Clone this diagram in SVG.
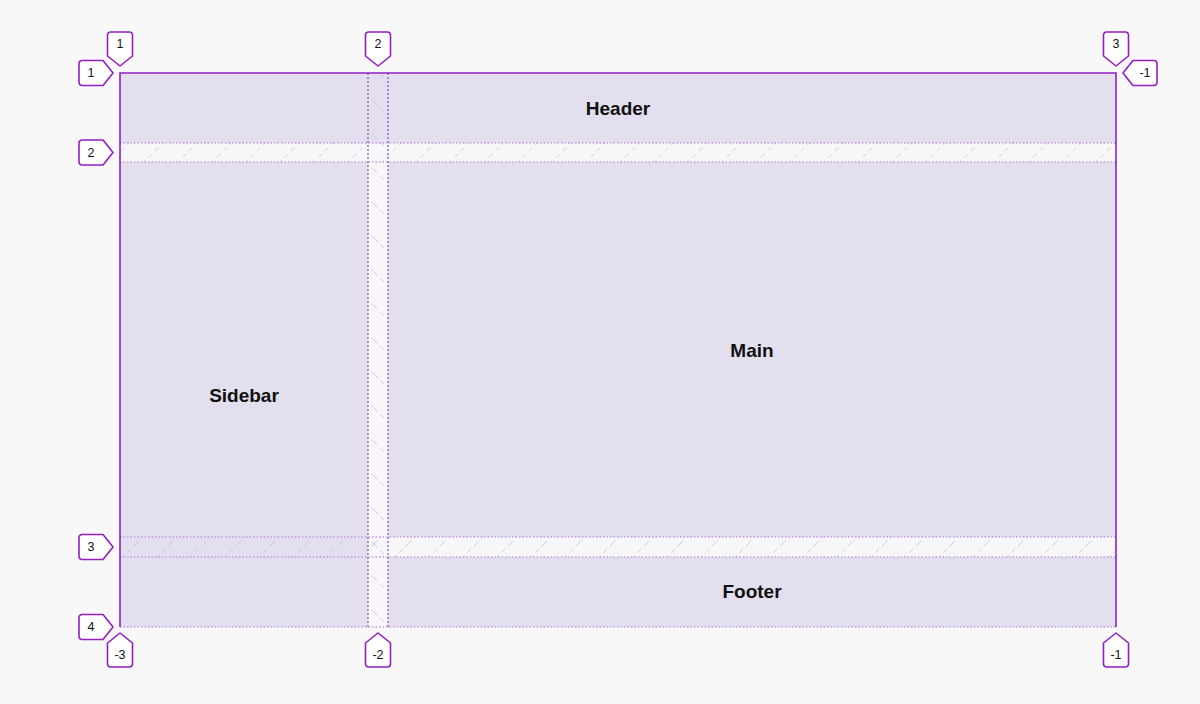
<svg xmlns="http://www.w3.org/2000/svg" width="1200" height="704" viewBox="0 0 1200 704">
  <defs>
    <style>
      .area{fill:#e3dfef}
      .gapbg{fill:#f7f6f9}
      .lbl{font-family:"Liberation Sans",Arial,sans-serif;font-size:19px;font-weight:bold;fill:#111;text-anchor:middle;dominant-baseline:central}
      .num{font-family:"Liberation Sans",Arial,sans-serif;font-size:12.5px;fill:#111;text-anchor:middle;dominant-baseline:central}
      .badge{fill:#fff;stroke:#931ec0;stroke-width:1.6;stroke-linejoin:round}
      .border{stroke:#931ec0;stroke-width:1.6;fill:none}
      .coldot{stroke:#a040cc;stroke-width:1.2;stroke-dasharray:2 2;fill:none}
      .rowdot{stroke:#b070d4;stroke-width:1;stroke-dasharray:1.5 2;fill:none}
    </style>
    <pattern id="hatchRow" patternUnits="userSpaceOnUse" width="34" height="34">
      <line x1="0" y1="34" x2="34" y2="0" stroke="#c6bfd4" stroke-width="0.8" stroke-dasharray="5 4"/>
    </pattern>
    <pattern id="hatchCol" patternUnits="userSpaceOnUse" width="34" height="34">
      <line x1="0" y1="0" x2="34" y2="34" stroke="#c6bfd4" stroke-width="0.8" stroke-dasharray="5 4"/>
    </pattern>
    <path id="bd" d="M -9.5,-34 H 9.5 A3,3 0 0 1 12.5,-31 V -10 L 0,0 L -12.5,-10 V -31 A3,3 0 0 1 -9.5,-34 Z"/>
  </defs>

  <rect width="1200" height="704" fill="#f8f8f8"/>

  <g id="grid">
    <rect class="gapbg" x="120" y="73" width="996" height="554"/>
  </g>

  <g id="header">
    <rect class="area" x="120" y="73" width="996" height="70"/>
    <text class="lbl" x="618" y="108">Header</text>
  </g>
  <g id="sidebar">
    <rect class="area" x="120" y="162" width="248" height="465"/>
    <text class="lbl" x="244" y="395">Sidebar</text>
  </g>
  <g id="main">
    <rect class="area" x="388" y="162" width="728" height="375"/>
    <text class="lbl" x="752" y="350">Main</text>
  </g>
  <g id="footer">
    <rect class="area" x="388" y="557" width="728" height="70"/>
    <text class="lbl" x="752" y="591">Footer</text>
  </g>

  <g id="gaps">
    <rect x="120" y="143" width="996" height="19" fill="url(#hatchRow)"/>
    <rect x="120" y="537" width="996" height="20" fill="url(#hatchRow)"/>
    <rect x="368" y="73" width="20" height="554" fill="url(#hatchCol)"/>
  </g>

  <g id="connectors">
    <line class="rowdot" x1="120" y1="143" x2="1116" y2="143"/>
    <line class="rowdot" x1="120" y1="162" x2="1116" y2="162"/>
    <line class="rowdot" x1="120" y1="537" x2="1116" y2="537"/>
    <line class="rowdot" x1="120" y1="557" x2="1116" y2="557"/>
    <line class="rowdot" x1="120" y1="627" x2="1116" y2="627"/>
    <line class="coldot" x1="368" y1="73" x2="368" y2="627"/>
    <line class="coldot" x1="388" y1="73" x2="388" y2="627"/>
    <path class="border" d="M120,627 V73 H1116 V627"/>
  </g>

  <g id="badge-top-1"><use href="#bd" class="badge" transform="translate(120,66)"/><text class="num" x="120" y="44">1</text></g>
  <g id="badge-top-2"><use href="#bd" class="badge" transform="translate(378,66)"/><text class="num" x="378" y="44">2</text></g>
  <g id="badge-top-3"><use href="#bd" class="badge" transform="translate(1116,66)"/><text class="num" x="1116" y="44">3</text></g>

  <g id="badge-left-1"><use href="#bd" class="badge" transform="translate(113,73) rotate(-90)"/><text class="num" x="91" y="73">1</text></g>
  <g id="badge-left-2"><use href="#bd" class="badge" transform="translate(113,152.5) rotate(-90)"/><text class="num" x="91" y="152.5">2</text></g>
  <g id="badge-left-3"><use href="#bd" class="badge" transform="translate(113,547) rotate(-90)"/><text class="num" x="91" y="547">3</text></g>
  <g id="badge-left-4"><use href="#bd" class="badge" transform="translate(113,627) rotate(-90)"/><text class="num" x="91" y="627">4</text></g>

  <g id="badge-right-m1"><use href="#bd" class="badge" transform="translate(1123,73) rotate(90)"/><text class="num" x="1145" y="73">-1</text></g>

  <g id="badge-bottom-m3"><use href="#bd" class="badge" transform="translate(120,633) rotate(180)"/><text class="num" x="120" y="655">-3</text></g>
  <g id="badge-bottom-m2"><use href="#bd" class="badge" transform="translate(378,633) rotate(180)"/><text class="num" x="378" y="655">-2</text></g>
  <g id="badge-bottom-m1"><use href="#bd" class="badge" transform="translate(1116,633) rotate(180)"/><text class="num" x="1116" y="655">-1</text></g>
</svg>
